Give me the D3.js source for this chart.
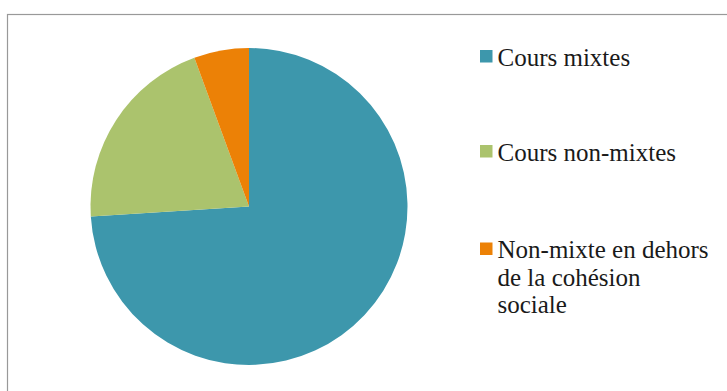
<!DOCTYPE html>
<html>
<head>
<meta charset="utf-8">
<script src="https://cdn.jsdelivr.net/npm/d3@7"></script>
<style>
  body { margin: 0; background: #fff; }
  svg { display: block; }
  .legend text { font-family: 'Liberation Serif', 'Times New Roman', 'DejaVu Serif', serif; }
</style>
</head>
<body>
<div id="chart"></div>
<script>
// data
var categories = ["Cours mixtes", "Cours non-mixtes", "Non-mixte en dehors de la cohésion sociale"];
var values = [74, 20.4, 5.6];
var colors = ["#3d97ac", "#abc36d", "#ec8106"];
// legend lines (wrapped as in the original)
var legendLines = [["Cours mixtes"], ["Cours non-mixtes"], ["Non-mixte en dehors", "de la cohésion", "sociale"]];

var width = 727, height = 391;

var svg = d3.select("#chart")
	.append("svg")
	.attr("width", width)
	.attr("height", height);

//chart border
svg.append("rect")
	.attr("x", 7.5)
	.attr("y", 14.5)
	.attr("width", 740)
	.attr("height", 400)
	.attr("fill", "none")
	.attr("stroke", "#999")
	.attr("stroke-width", 1.2);

//Pie
var cx = 249, cy = 206.5, r = 158.5;
var pie = d3.pie().sort(null).value(function(d) { return d; });
var arc = d3.arc().innerRadius(0).outerRadius(r);

var g = svg.append("g")
	.attr("transform", "translate(" + cx + "," + cy + ")");

g.selectAll("path")
	.data(pie(values))
	.enter()
	.append("path")
	.attr("d", arc)
	.attr("fill", function(d, i) { return colors[i]; });

//Legend
var legendY = [50, 145, 242.5];
var legend = svg.selectAll(".legend")
	.data(categories)
	.enter()
	.append("g")
	.attr("class", "legend")
	.attr("transform", function(d, i) { return "translate(480," + legendY[i] + ")"; });

legend.append("rect")
	.attr("width", 12.5)
	.attr("height", 12.5)
	.attr("fill", function(d, i) { return colors[i]; });

legend.append("text")
	.attr("font-size", 25)
	.attr("fill", "#1a1a1a")
	.each(function(d, i) {
		var t = d3.select(this);
		legendLines[i].forEach(function(line, j) {
			t.append("tspan")
				.attr("x", 17.5)
				.attr("y", 15.5 + j * 27.5)
				.text(line);
		});
	});
</script>
</body>
</html>
